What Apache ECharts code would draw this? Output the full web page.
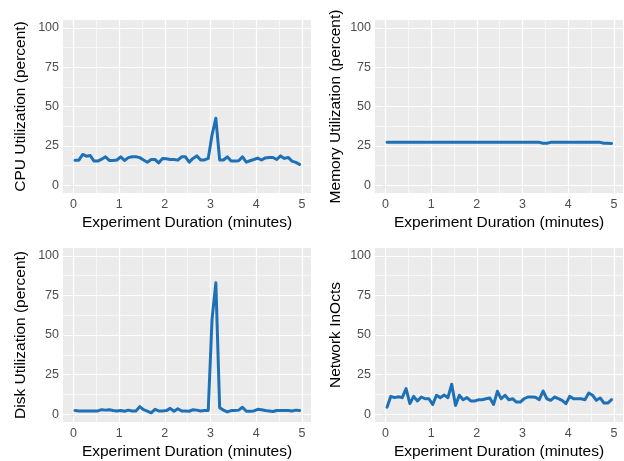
<!DOCTYPE html>
<html>
<head>
<meta charset="utf-8">
<script src="https://cdn.jsdelivr.net/npm/echarts@6/dist/echarts.min.js"></script>
<style>
  html, body { margin: 0; padding: 0; background: #ffffff; }
  #chart { width: 624px; height: 461px; }
</style>
</head>
<body>
<div id="chart"></div>
<script>
// Sample times, in seconds from the start of the run (one sample every 5 s)
const seconds = [2, 7, 12, 17, 22, 27, 32, 37, 42, 47, 52, 57, 62, 67, 72, 77, 82, 87, 92, 97,
  102, 107, 112, 117, 122, 127, 132, 137, 142, 147, 152, 157, 162, 167, 172, 177, 182, 187, 192, 197,
  202, 207, 212, 217, 222, 227, 232, 237, 242, 247, 252, 257, 262, 267, 272, 277, 282, 287, 292, 297];

const cpu = [15.9, 15.9, 19.5, 18.4, 18.8, 15.3, 15.3, 16.5, 18.0, 15.7,
  15.7, 16.0, 18.0, 15.7, 17.5, 18.0, 18.0, 17.5, 16.0, 14.6,
  16.3, 16.3, 14.2, 17.0, 16.8, 16.3, 16.3, 15.9, 18.0, 18.0,
  14.6, 17.0, 18.6, 16.0, 16.0, 17.0, 32.0, 42.5, 16.0, 16.0,
  18.0, 15.3, 15.3, 15.5, 18.0, 14.6, 15.5, 16.3, 17.2, 16.0,
  17.3, 17.6, 17.6, 16.3, 18.6, 17.0, 17.6, 15.3, 14.5, 13.2];

const memory = [27.2, 27.2, 27.2, 27.2, 27.2, 27.2, 27.2, 27.2, 27.2, 27.2,
  27.2, 27.2, 27.2, 27.2, 27.2, 27.2, 27.2, 27.2, 27.2, 27.2,
  27.2, 27.2, 27.2, 27.2, 27.2, 27.2, 27.2, 27.2, 27.2, 27.2,
  27.2, 27.2, 27.2, 27.2, 27.2, 27.2, 27.2, 27.2, 27.2, 27.2,
  27.2, 26.6, 26.6, 27.2, 27.2, 27.2, 27.2, 27.2, 27.2, 27.2,
  27.2, 27.2, 27.2, 27.2, 27.2, 27.2, 27.2, 26.6, 26.6, 26.5];

const disk = [2.3, 2.0, 2.0, 2.0, 2.0, 2.0, 2.0, 2.8, 2.5, 2.8,
  2.3, 1.9, 2.3, 1.8, 2.5, 2.0, 2.0, 4.7, 2.8, 1.9,
  0.8, 3.0, 2.0, 2.0, 2.2, 3.6, 1.8, 3.4, 2.0, 2.0,
  1.8, 2.8, 2.5, 2.0, 2.3, 2.3, 60.0, 83.0, 4.0, 2.5,
  1.4, 2.2, 2.2, 2.5, 4.3, 1.8, 1.8, 2.0, 3.0, 2.8,
  2.3, 2.0, 1.6, 2.3, 2.3, 2.3, 2.3, 2.0, 2.5, 2.2];

const network = [4.4, 11.2, 10.4, 11.0, 10.4, 16.1, 6.6, 11.2, 8.3, 10.8,
  9.7, 9.7, 6.1, 11.9, 10.4, 12.0, 10.4, 18.9, 5.5, 11.9,
  9.1, 10.4, 8.3, 8.3, 9.0, 9.1, 9.7, 10.2, 6.1, 14.4,
  9.7, 11.9, 9.1, 9.7, 7.6, 7.6, 9.7, 10.8, 10.8, 10.6,
  9.1, 14.6, 9.7, 8.7, 10.8, 9.8, 8.7, 6.6, 11.2, 9.7,
  9.7, 9.7, 9.1, 13.3, 11.9, 8.7, 10.2, 7.0, 7.0, 9.1];

const xTicks = [0, 1, 2, 3, 4, 5];
const xMinorTicks = [0.5, 1.5, 2.5, 3.5, 4.5];
const yTicks = [0, 25, 50, 75, 100];
const yMinorTicks = [12.5, 37.5, 62.5, 87.5];

const xTitle = 'Experiment Duration (minutes)';
const panelTitles = ['CPU Utilization (percent)', 'Memory Utilization (percent)',
  'Disk Utilization (percent)', 'Network InOcts'];
const panelValues = [cpu, memory, disk, network];

// panel boxes (pixels) and y-title gaps
const boxes = [
  { left: 63,  top: 20,  width: 248, height: 173, nameGap: 34 },
  { left: 375, top: 20,  width: 248, height: 173, nameGap: 31.5 },
  { left: 63,  top: 248, width: 248, height: 174, nameGap: 34 },
  { left: 375, top: 248, width: 248, height: 174, nameGap: 31.5 }
];

const FONT = 'Liberation Sans, Arial, sans-serif';
const LINE_BLUE = '#1f71b5';
const minutes = seconds.map(s => s / 60);

const grid = [], xAxis = [], yAxis = [], series = [];

boxes.forEach((b, i) => {
  grid.push({
    left: b.left, top: b.top, width: b.width, height: b.height,
    show: true, backgroundColor: '#ebebeb', borderWidth: 0
  });
  xAxis.push({
    gridIndex: i, type: 'value', min: -0.23, max: 5.2,
    name: xTitle, nameLocation: 'middle', nameGap: 22,
    nameTextStyle: { color: '#000', fontSize: 15.5, fontFamily: FONT },
    axisLine: { show: false },
    axisTick: { show: true, length: 3, lineStyle: { color: '#333', width: 1.1 }, customValues: xTicks },
    axisLabel: { color: '#4d4d4d', fontSize: 12.5, fontFamily: FONT, margin: 5, customValues: xTicks },
    splitLine: { show: false }
  });
  yAxis.push({
    gridIndex: i, type: 'value', min: -5, max: 105,
    name: panelTitles[i], nameLocation: 'middle', nameGap: b.nameGap,
    nameTextStyle: { color: '#000', fontSize: 15.5, fontFamily: FONT },
    axisLine: { show: false },
    axisTick: { show: true, length: 3, lineStyle: { color: '#333', width: 1.1 }, customValues: yTicks },
    axisLabel: { color: '#4d4d4d', fontSize: 12.5, fontFamily: FONT, margin: 4, customValues: yTicks },
    splitLine: { show: false }
  });

  // white panel grid lines (major and minor), drawn under the data line
  const major = { color: '#ffffff', width: 1.2, type: 'solid' };
  const minor = { color: '#ffffff', width: 0.6, type: 'solid' };
  const gridLines = [].concat(
    xTicks.map(v => ({ xAxis: v, lineStyle: major })),
    xMinorTicks.map(v => ({ xAxis: v, lineStyle: minor })),
    yTicks.map(v => ({ yAxis: v, lineStyle: major })),
    yMinorTicks.map(v => ({ yAxis: v, lineStyle: minor }))
  );
  series.push({
    type: 'line', xAxisIndex: i, yAxisIndex: i, data: [], silent: true, z: 1,
    markLine: {
      silent: true, z: 1, symbol: ['none', 'none'], animation: false,
      label: { show: false }, emphasis: { disabled: true },
      data: gridLines
    }
  });

  series.push({
    type: 'line', xAxisIndex: i, yAxisIndex: i, z: 3,
    data: minutes.map((m, k) => [m, panelValues[i][k]]),
    showSymbol: false, symbol: 'none',
    lineStyle: { color: LINE_BLUE, width: 3, join: 'round', cap: 'round' },
    itemStyle: { color: LINE_BLUE }
  });
});

const chart = echarts.init(document.getElementById('chart'), null, { renderer: 'canvas' });
chart.setOption({
  animation: false,
  backgroundColor: '#ffffff',
  grid, xAxis, yAxis, series
});
</script>
</body>
</html>
